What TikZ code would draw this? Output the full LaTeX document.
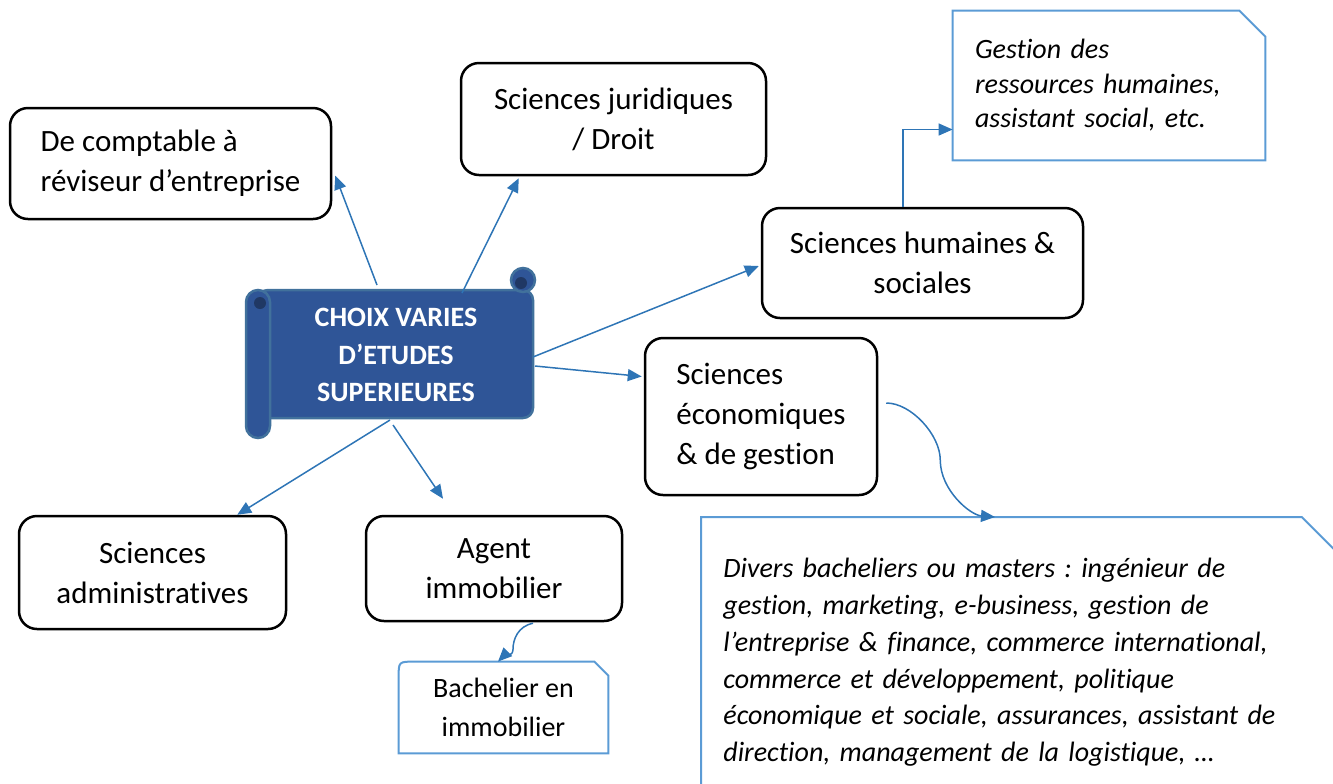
\documentclass[tikz,border=0pt]{standalone}
\usepackage{fontspec}
\setmainfont{Carlito}[Ligatures={NoCommon,NoContextual}]
\usetikzlibrary{arrows.meta, positioning}
\definecolor{linkblue}{HTML}{2E75B6}
\definecolor{noteblue}{HTML}{5B9BD5}
\definecolor{scrollfill}{HTML}{2F5597}
\definecolor{scrollline}{HTML}{41719C}
\definecolor{scrolldark}{HTML}{203864}
\frenchspacing
\tikzstyle{mybox} = [draw=black, fill=white, line width=1.25pt,
    rectangle, rounded corners=9pt, inner sep=0pt,
    font=\fontsize{15.5}{20}\selectfont]
\tikzstyle{notetext} = [rectangle, inner ysep=0pt, inner xsep=11pt,
    align=left, font=\fontsize{14}{17.25}\selectfont\itshape]
\tikzstyle{notebox} = [draw=noteblue, line width=1pt, line join=miter]
\tikzstyle{scroll} = [fill=scrollfill, draw=scrollline, line width=1.25pt]
\tikzstyle{link} = [draw=linkblue, line width=0.75pt,
    -{Triangle[length=7pt,width=6pt]}]
\newcommand\snipbox[2]{
    \draw[notebox] (#1.south west) -- (#1.north west) -- ([xshift=-#2]#1.north east)
        -- ([yshift=-#2]#1.north east) -- (#1.south east) -- cycle;
}

\begin{document}
\begin{tikzpicture}[x=0.5pt, y=-0.5pt]
\useasboundingbox (0,0) rectangle (1333,783);
\clip (0,0) rectangle (1333,783);

% scroll
\path[scroll, rounded corners=5pt] (258,290) rectangle (533,418);
\path[scroll] (523,280) circle[radius=12];
\path[fill=scrolldark] (521,283) circle[radius=6];
\path[scroll, rounded corners=6pt] (246,290) rectangle (270,438);
\path[fill=scrolldark] (260,303) circle[radius=6];
\node[align=center, text=white, font=\fontsize{14}{18.75}\selectfont\bfseries] (choix) at (396,355)
    {CHOIX VARIES\\D’ETUDES\\SUPERIEURES};
\coordinate (s1) at (377,285);
\coordinate (s2) at (462,293);
\coordinate (s3) at (533,357);
\coordinate (s4) at (535,366);
\coordinate (s5) at (390,420);
\coordinate (s6) at (393,425);

\node[mybox, minimum width=160.5pt, minimum height=55.5pt, align=left] (comptable) at (170.5,163.5)
    {De comptable à\\réviseur d’entreprise};
\node[mybox, minimum width=152.5pt, minimum height=56pt, align=center] (droit) at (613.5,119)
    {Sciences juridiques\\/ Droit};
\node[mybox, minimum width=160.5pt, minimum height=55pt, align=center] (humaines) at (922.5,263)
    {Sciences humaines \&\\sociales};
\node[mybox, minimum width=116pt, minimum height=78.5pt, align=left] (economie) at (761,416.5)
    {Sciences\\économiques\\\& de gestion};
\node[mybox, minimum width=133.5pt, minimum height=56.5pt, align=center] (admin) at (152.5,572.5)
    {Sciences\\administratives};
\node[mybox, minimum width=128pt, minimum height=52.5pt, align=center] (agent) at (494,568.5)
    {Agent\\immobilier};

\node[notetext, text width=134pt, minimum height=74.5pt] (gestion) at (1109,85.5)
    {Gestion des\\ressources humaines,\\assistant social, etc.};
\snipbox{gestion}{13pt}

\node[notetext, text width=300pt, minimum height=145pt, anchor=north west,
    font=\fontsize{14}{18.4}\selectfont\itshape] (divers) at (701,517)
    {Divers bacheliers ou masters : ingénieur de\\
     gestion, marketing, e-business, gestion de\\
     l’entreprise \& finance, commerce international,\\
     commerce et développement, politique\\
     économique et sociale, assurances, assistant de\\
     direction, management de la logistique, …};
\snipbox{divers}{22pt}

\node[rectangle, inner sep=0pt, minimum width=104.5pt, minimum height=45.5pt, align=center,
    font=\fontsize{14}{19.5}\selectfont] (bachelier) at (503.5,707.5)
    {Bachelier en\\immobilier};
\draw[notebox] (bachelier.south west) -- ([yshift=-8pt]bachelier.north west)
    .. controls (bachelier.north west) .. ([xshift=8pt]bachelier.north west)
    -- ([xshift=-7pt]bachelier.north east) -- ([yshift=-7pt]bachelier.north east)
    -- (bachelier.south east) -- cycle;

% arrows
\draw[link] (s1) -- ([xshift=1.5pt,yshift=-6pt]comptable.east);
\draw[link] (s2) -- ([xshift=29.5pt,yshift=-1pt]droit.south west);
\draw[link] (s3) -- ([xshift=-1pt,yshift=-1.5pt]humaines.west);
\draw[link] (s4) -- ([xshift=-1pt,yshift=20pt]economie.west);
\draw[link] (s5) -- ([xshift=-25pt]admin.north east);
\draw[link] (s6) -- ([xshift=-25.5pt,yshift=8pt]agent.north);
\draw[link] ([xshift=-9.75pt]humaines.north) |- ([yshift=-22pt]gestion.west);
\draw[link] ([xshift=4pt,yshift=6.75pt]economie.east) .. controls +(25,0) and +(0,-25) .. ++(54,57)
    .. controls +(0,30) and +(-25,-2) .. ([xshift=147pt]divers.north west);
\draw[link] ([xshift=19.5pt,yshift=-0.5pt]agent.south) .. controls +(-15,3) and +(0,-10) .. ++(-20,26)
    .. controls +(0,8) and +(6,-6) .. ([xshift=-2.75pt]bachelier.north);
\end{tikzpicture}
\end{document}
